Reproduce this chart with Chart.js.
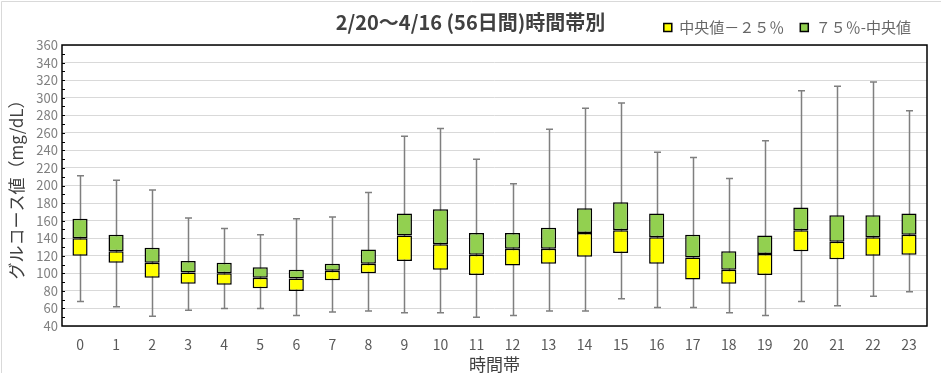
<!DOCTYPE html>
<html lang="ja">
<head>
<meta charset="UTF-8">
<title>時間帯別グルコース値</title>
<script src="https://cdn.jsdelivr.net/npm/chart.js"></script>
<style>
  body { margin: 0; background: #fff; }
  .wrap { position: relative; width: 941px; height: 373px; }
  .title {
    position: absolute; left: 0; top: 9px; width: 941px;
    text-align: center;
    font: bold 20px "Noto Sans CJK JP", sans-serif;
    color: #404040;
    line-height: 26px;
  }
  canvas { display: block; }
</style>
</head>
<body>
<div class="wrap">
  <div class="title">2/20～4/16 (56日間)時間帯別</div>
  <canvas id="chart" width="941" height="373"></canvas>
</div>
<script>
// 時間帯ごとの統計値 (mg/dL)
const hours = ['0','1','2','3','4','5','6','7','8','9','10','11','12','13','14','15','16','17','18','19','20','21','22','23'];
const minVals = [68, 62, 51, 58, 60, 60, 52, 56, 57, 55, 55, 50, 52, 57, 57, 71, 61, 61, 55, 52, 68, 63, 74, 79];
const q1Vals  = [120, 112, 95, 88, 87, 83, 80, 92, 100, 114, 104, 98, 109, 111, 119, 123, 111, 93, 88, 98, 125, 116, 120, 121];
const medVals = [140, 125, 112, 101, 100, 95, 94, 103, 111, 143, 133, 121, 128, 128, 146, 149, 141, 118, 104, 122, 149, 136, 141, 144];
const q3Vals  = [162, 144, 129, 114, 112, 107, 104, 111, 127, 168, 173, 146, 146, 152, 174, 181, 168, 144, 125, 143, 175, 166, 166, 168];
const maxVals = [211, 206, 195, 163, 151, 144, 162, 164, 192, 256, 265, 230, 202, 264, 288, 294, 238, 232, 208, 251, 308, 313, 318, 285];
const yTicks = { min: 40, max: 360, step: 20 };

const FONT = '"Noto Sans CJK JP", sans-serif';

// ひげ・枠線・補助目盛
const boxExtras = {
  id: 'boxExtras',
  beforeDraw(chart) {
    const ctx = chart.ctx;
    ctx.save();
    ctx.fillStyle = '#fff';
    ctx.fillRect(0, 0, chart.width, chart.height);
    ctx.strokeStyle = '#d9d9d9';
    ctx.lineWidth = 1;
    ctx.beginPath();
    ctx.moveTo(1.5, chart.height);
    ctx.lineTo(1.5, 1.5);
    ctx.lineTo(chart.width, 1.5);
    ctx.stroke();
    ctx.restore();
  },
  beforeDatasetsDraw(chart) {
    const ctx = chart.ctx, x = chart.scales.x, y = chart.scales.y;
    ctx.save();
    ctx.strokeStyle = '#7f7f7f';
    ctx.lineWidth = 1.5;
    hours.forEach((h, i) => {
      const px = Math.round(x.getPixelForValue(i)) + 0.5;
      const top = y.getPixelForValue(maxVals[i]);
      const bot = y.getPixelForValue(minVals[i]);
      ctx.beginPath();
      ctx.moveTo(px, top); ctx.lineTo(px, bot);
      ctx.moveTo(px - 3.5, top); ctx.lineTo(px + 3.5, top);
      ctx.moveTo(px - 3.5, bot); ctx.lineTo(px + 3.5, bot);
      ctx.stroke();
    });
    ctx.restore();
  },
  afterDatasetsDraw(chart) {
    const ctx = chart.ctx, a = chart.chartArea, y = chart.scales.y;
    ctx.save();
    ctx.strokeStyle = '#000';
    ctx.lineWidth = 1;
    ctx.beginPath();
    for (let v = yTicks.min + 10; v < yTicks.max; v += 10) {
      const py = Math.round(y.getPixelForValue(v)) + 0.5;
      ctx.moveTo(a.left, py); ctx.lineTo(a.left + 3, py);
    }
    ctx.stroke();
    ctx.lineWidth = 1.5;
    ctx.strokeRect(a.left, a.top, a.right - a.left, a.bottom - a.top);
    ctx.restore();
  }
};

new Chart(document.getElementById('chart'), {
  type: 'bar',
  data: {
    labels: hours,
    datasets: [
      {
        label: '中央値－２５％',
        data: hours.map((h, i) => [q1Vals[i], medVals[i]]),
        backgroundColor: '#ffff00',
        borderColor: '#000',
        borderWidth: 1.5,
        borderSkipped: false
      },
      {
        label: '７５％-中央値',
        data: hours.map((h, i) => [medVals[i], q3Vals[i]]),
        backgroundColor: '#92d050',
        borderColor: '#000',
        borderWidth: 1.5,
        borderSkipped: false
      }
    ]
  },
  options: {
    responsive: false,
    animation: false,
    grouped: false,
    categoryPercentage: 1,
    barPercentage: 0.42,
    layout: { padding: { top: 0, left: 6, right: 14, bottom: 0 } },
    plugins: {
      tooltip: { enabled: false },
      legend: {
        position: 'top',
        align: 'end',
        labels: {
          boxWidth: 8,
          boxHeight: 8,
          padding: 16,
          color: '#666666',
          font: { family: FONT, size: 15 }
        }
      }
    },
    scales: {
      x: {
        grid: { display: false },
        border: { display: false },
        ticks: { color: '#595959', padding: 2, font: { family: FONT, size: 14 } },
        title: {
          display: true, text: '時間帯', color: '#404040',
          padding: { top: 0, bottom: -2 }, font: { family: FONT, size: 17 }
        },
        afterFit(scale) { scale.height = 47; }
      },
      y: {
        min: yTicks.min,
        max: yTicks.max,
        grid: { color: '#d9d9d9', drawTicks: false },
        border: { display: false },
        ticks: {
          stepSize: yTicks.step, autoSkip: false, color: '#808080', padding: 4,
          font: { family: FONT, size: 13 }
        },
        title: {
          display: true, text: 'グルコース値（mg/dL）', color: '#404040',
          padding: 0, font: { family: FONT, size: 17 }
        },
        afterFit(scale) {
          scale.width = 56;
          scale.paddingTop = 45;
        }
      }
    }
  },
  plugins: [boxExtras]
});
</script>
</body>
</html>
